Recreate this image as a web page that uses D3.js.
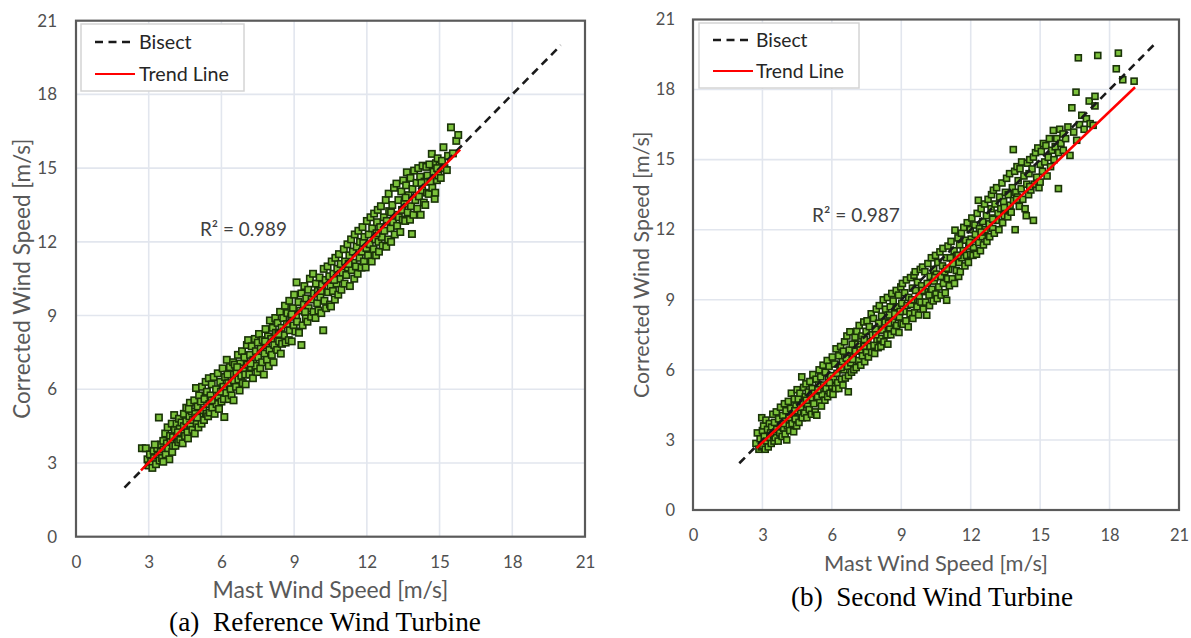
<!DOCTYPE html>
<html><head><meta charset="utf-8">
<script src="https://cdn.jsdelivr.net/npm/d3@7"></script>
<style>body{margin:0;background:#fff;} svg{display:block;}</style>
</head><body><svg id="c" width="1191" height="638"></svg>
<script>
const ticks = [0,3,6,9,12,15,18,21];
const bisectLine = [[2,2],[20,20]];
const leftTrend = [[2.68,2.70],[15.85,15.75]];
const rightTrend = [[2.75,2.65],[19.1,18.1]];
const r2Labels = ["R² = 0.989","R² = 0.987"];
const legendLabels = ["Bisect","Trend Line"];
const xTitle = "Mast Wind Speed [m/s]";
const yTitle = "Corrected Wind Speed [m/s]";
const captions = ["(a)  Reference Wind Turbine","(b)  Second Wind Turbine"];

const leftPoints = [
[2.72,3.6],[2.88,3.6],[2.95,3.15],[3.0,2.9],[3.05,3.35],[3.1,3.05],[3.15,2.8],[3.2,3.5],[3.22,3.2],[3.3,2.95],[3.35,3.6],[3.38,3.3],[3.42,4.85],[3.45,3.1],[3.5,3.75],[3.5,3.45],
[3.55,3.2],[3.6,3.9],[3.62,3.55],[3.68,4.2],[3.7,3.35],[3.75,3.8],[3.78,4.45],[3.8,3.6],[3.85,3.15],[3.88,4.1],[3.9,3.85],[3.95,4.6],[3.97,3.45],[4.0,4.05],[4.0,3.7],
[4.05,4.95],[4.08,4.35],[4.1,3.7],[4.15,4.6],[4.18,4.1],[4.22,3.85],[4.25,4.8],[4.28,4.4],[4.3,3.95],[4.35,4.65],[4.38,4.2],[4.4,3.8],[4.45,5.0],[4.45,4.5],[4.5,4.1],
[4.55,5.25],[4.55,4.7],[4.6,4.25],[4.62,4.0],[4.68,4.9],[4.7,5.45],[4.72,4.55],[4.78,5.1],[4.8,4.35],[4.82,4.75],[4.88,5.55],[4.9,4.2],[4.92,5.0],[4.95,6.05],[4.98,4.6],
[5.02,5.3],[5.05,4.45],[5.08,5.75],[5.1,4.9],[5.15,5.5],[5.18,4.6],[5.2,6.1],[5.25,5.15],[5.28,4.75],[5.3,5.6],[5.35,6.3],[5.38,5.0],[5.4,5.9],[5.45,4.9],[5.48,6.45],[5.5,5.4],
[5.52,5.05],[5.55,5.75],[5.6,6.2],[5.62,5.25],[5.68,6.5],[5.7,5.55],[5.72,5.0],[5.78,6.0],[5.8,5.4],[5.85,6.65],[5.88,5.7],[5.9,5.2],[5.95,6.3],[5.98,5.9],[6.0,5.5],
[6.05,6.85],[6.08,6.1],[6.12,4.87],[6.1,5.6],[6.15,6.5],[6.2,5.85],[6.22,7.2],[6.28,6.25],[6.3,5.6],[6.35,6.9],[6.38,6.0],[6.42,5.75],[6.45,6.6],[6.48,7.1],[6.5,5.55],
[6.52,6.35],[6.55,7.0],[6.6,6.1],[6.62,6.7],[6.68,7.4],[6.7,6.4],[6.75,5.95],[6.78,7.05],[6.82,6.55],[6.85,7.55],[6.88,6.25],[6.9,6.85],[6.95,7.3],[6.98,6.6],[7.0,6.2],
[7.05,7.8],[7.08,7.0],[7.1,8.0],[7.15,6.6],[7.18,7.4],[7.22,6.9],[7.25,7.75],[7.3,6.45],[7.32,7.2],[7.38,8.05],[7.4,6.95],[7.42,7.55],[7.48,6.7],[7.5,7.9],
[7.52,7.3],[7.55,8.25],[7.6,6.85],[7.62,7.65],[7.68,7.1],[7.7,8.0],[7.75,6.6],[7.78,7.45],[7.82,8.45],[7.85,7.8],[7.88,7.2],[7.92,8.15],[7.95,6.95],[7.98,7.6],[8.0,8.8],
[8.05,8.05],[8.08,7.4],[8.12,8.5],[8.15,7.1],[8.18,7.8],[8.22,8.9],[8.25,8.3],[8.3,7.6],[8.32,8.7],[8.38,7.95],[8.42,9.15],[8.45,7.45],[8.48,8.5],[8.5,7.85],
[8.55,8.9],[8.58,8.2],[8.62,9.4],[8.65,7.9],[8.7,8.65],[8.72,9.1],[8.78,8.0],[8.8,9.6],[8.82,8.4],[8.88,8.95],[8.9,7.95],[8.95,9.3],[8.98,8.6],[9.0,9.85],
[9.05,8.35],[9.08,9.0],[9.1,10.35],[9.12,8.75],[9.18,9.55],[9.2,8.3],[9.25,9.2],[9.3,7.8],[9.3,9.9],[9.35,8.6],[9.4,9.45],[9.42,10.2],[9.48,8.9],[9.5,9.7],
[9.55,8.75],[9.58,10.05],[9.6,9.3],[9.65,10.5],[9.7,8.95],[9.72,9.65],[9.78,10.7],[9.8,9.15],[9.82,9.9],[9.88,8.9],[9.9,10.3],[9.95,9.5],[9.98,10.0],[10.0,9.2],
[10.05,10.55],[10.08,9.75],[10.12,9.1],[10.15,10.25],[10.2,8.4],[10.22,10.9],[10.25,9.6],[10.3,10.45],[10.32,9.3],[10.38,11.0],[10.4,9.95],[10.45,10.6],[10.48,9.45],[10.5,10.2],
[10.52,9.37],[10.55,11.2],[10.6,10.0],[10.62,10.7],[10.68,9.65],[10.7,11.35],[10.75,10.3],[10.78,10.9],[10.82,9.85],[10.85,11.5],[10.88,10.5],[10.92,11.1],[10.95,10.05],[11.0,10.75],
[11.05,11.7],[11.08,10.3],[11.1,11.2],[11.15,10.65],[11.2,11.9],[11.22,10.95],[11.28,11.45],[11.3,10.2],[11.35,12.1],[11.38,10.85],[11.42,11.6],[11.45,11.15],[11.48,10.5],[11.5,12.3],
[11.55,11.0],[11.58,11.8],[11.62,10.7],[11.65,12.45],[11.7,11.35],[11.72,12.0],[11.78,10.95],[11.8,11.6],[11.82,12.6],[11.88,11.2],[11.9,12.2],[11.95,10.96],[11.98,11.75],[12.0,12.85],
[12.05,11.45],[12.08,12.3],[12.12,11.9],[12.15,13.0],[12.2,11.2],[12.22,12.55],[12.28,11.7],[12.3,13.15],[12.35,12.1],[12.38,11.45],[12.42,12.8],[12.45,13.3],[12.48,12.0],[12.5,11.6],
[12.55,12.6],[12.58,13.45],[12.62,12.2],[12.65,11.85],[12.7,13.0],[12.72,12.45],[12.78,13.7],[12.8,11.8],[12.82,12.85],[12.88,12.1],[12.9,13.96],[12.92,13.25],[12.98,12.55],[13.0,12.0],
[13.05,13.5],[13.08,12.8],[13.12,14.2],[13.15,12.3],[13.18,13.1],[13.22,14.37],[13.25,12.65],[13.3,13.7],[13.32,13.0],[13.38,12.4],[13.42,14.05],[13.45,13.3],[13.48,12.9],[13.5,14.5],
[13.55,13.55],[13.58,12.85],[13.62,14.3],[13.65,14.83],[13.68,13.2],[13.72,13.9],[13.78,12.9],[13.8,14.6],[13.82,13.45],[13.86,12.32],[13.88,14.15],[13.92,13.1],[13.95,14.9],[14.0,13.7],
[14.05,14.4],[14.08,13.35],[14.12,15.0],[14.15,13.85],[14.2,14.65],[14.22,13.1],[14.28,14.1],[14.3,15.1],[14.35,13.6],[14.38,14.45],[14.41,13.5],[14.45,15.05],[14.48,14.0],[14.5,14.7],
[14.55,13.95],[14.58,15.15],[14.62,14.45],[14.68,15.58],[14.7,14.2],[14.75,14.85],[14.8,13.75],[14.82,14.0],[14.85,15.2],[14.89,14.51],[14.92,15.4],[14.95,14.7],[15.0,15.1],
[15.05,14.6],[15.1,15.3],[15.16,15.85],[15.2,15.0],[15.3,14.92],[15.35,15.5],[15.47,16.66],[15.55,15.6],[15.69,16.11],[15.77,16.35],
[3.25,3.75],[3.6,3.05],[4.2,4.25],[4.65,5.2],[5.0,4.85],[5.6,5.55],[6.25,6.6],[6.65,6.9],[7.2,7.05],[7.8,7.95],[8.35,8.25],[8.9,9.05],[9.45,9.15],[10.1,10.0],[10.65,10.45],[11.25,11.1],[11.85,11.95],[12.4,12.35],[13.0,13.2],[13.6,13.8],[14.25,14.4],[14.9,15.0]
];

const rightPoints = [
[2.72,2.85],[2.78,3.3],[2.85,2.6],[2.9,3.05],[2.97,3.95],[2.95,2.7],[3.0,3.4],
[3.02,2.75],[3.05,3.6],[3.08,3.15],[3.12,2.6],[3.15,3.85],[3.18,2.95],[3.22,3.45],[3.25,2.7],[3.3,3.7],[3.32,3.1],[3.38,2.85],[3.4,3.55],[3.45,4.1],[3.48,3.2],[3.5,2.95],
[3.52,3.75],[3.55,3.1],[3.6,4.2],[3.62,3.45],[3.68,2.95],[3.7,3.9],[3.75,3.3],[3.78,4.4],[3.82,3.6],[3.85,3.15],[3.88,4.05],[3.92,3.5],[3.95,4.55],[3.98,3.25],[4.0,3.8],
[4.02,4.25],[4.05,3.0],[4.08,3.6],[4.12,4.65],[4.15,3.95],[4.18,3.4],[4.22,4.35],[4.25,5.0],[4.28,3.7],[4.32,4.1],[4.35,3.35],[4.38,4.75],[4.42,3.9],[4.45,4.45],[4.48,3.6],[4.5,5.15],
[4.52,4.2],[4.55,4.75],[4.58,3.75],[4.62,5.0],[4.65,4.4],[4.7,5.7],[4.72,3.95],[4.75,4.6],[4.78,5.25],[4.82,4.15],[4.85,4.85],[4.88,5.4],[4.92,3.95],[4.95,4.5],[4.98,5.05],
[5.02,4.3],[5.05,5.5],[5.08,4.75],[5.12,4.1],[5.15,5.2],[5.18,5.8],[5.22,4.55],[5.25,5.0],[5.28,4.2],[5.32,5.6],[5.35,4.06],[5.38,4.85],[5.42,5.35],[5.45,6.0],[5.48,4.6],[5.5,5.1],
[5.52,5.7],[5.55,4.45],[5.58,4.95],[5.62,6.2],[5.65,5.35],[5.7,4.7],[5.72,5.9],[5.75,5.2],[5.8,6.4],[5.82,4.85],[5.85,5.6],[5.88,6.15],[5.92,5.0],[5.95,5.75],[6.0,5.3],
[6.02,6.55],[6.05,4.95],[6.08,5.6],[6.12,6.25],[6.15,5.2],[6.18,6.9],[6.22,5.85],[6.25,5.45],[6.3,6.6],[6.3,5.2],[6.35,6.05],[6.38,7.0],[6.42,5.6],[6.45,6.35],[6.48,5.35],[6.5,6.8],
[6.52,6.0],[6.55,7.2],[6.58,5.65],[6.62,6.5],[6.65,7.45],[6.68,6.15],[6.71,5.06],[6.72,5.75],[6.75,6.85],[6.78,7.63],[6.82,6.3],[6.85,5.9],[6.88,7.1],[6.92,6.55],[6.95,6.0],[7.0,7.4],
[7.02,6.8],[7.05,6.1],[7.08,7.65],[7.12,7.1],[7.15,6.4],[7.18,7.9],[7.22,6.85],[7.25,6.2],[7.3,7.45],[7.32,6.6],[7.38,8.05],[7.4,7.0],[7.42,6.35],[7.48,7.65],[7.5,6.75],
[7.52,8.1],[7.55,7.2],[7.58,6.55],[7.62,7.85],[7.65,7.0],[7.7,8.4],[7.72,6.75],[7.75,7.5],[7.8,8.2],[7.82,7.05],[7.85,6.7],[7.88,7.75],[7.92,8.6],[7.95,7.3],[8.0,6.95],
[8.02,8.0],[8.05,8.75],[8.08,7.35],[8.12,7.0],[8.15,8.3],[8.18,7.7],[8.22,9.0],[8.25,7.2],[8.3,8.05],[8.32,8.6],[8.38,7.5],[8.4,9.1],[8.42,7.1],[8.48,8.35],[8.5,7.8],
[8.52,8.7],[8.55,7.5],[8.59,9.27],[8.62,8.05],[8.65,8.95],[8.7,7.65],[8.72,8.4],[8.78,9.4],[8.8,7.9],[8.82,8.7],[8.88,9.2],[8.9,7.6],[8.92,8.25],[8.98,9.55],[9.0,8.0],
[9.02,8.85],[9.05,9.7],[9.08,7.95],[9.12,8.5],[9.15,9.3],[9.2,8.1],[9.22,9.85],[9.25,8.75],[9.3,7.84],[9.32,9.1],[9.38,8.4],[9.4,9.95],[9.42,8.8],[9.48,9.5],[9.5,8.2],
[9.52,9.0],[9.55,10.05],[9.58,8.45],[9.6,10.2],[9.62,9.4],[9.68,8.7],[9.7,9.75],[9.75,8.35],[9.78,9.15],[9.82,10.3],[9.85,8.9],[9.88,9.6],[9.92,10.4],[9.95,8.6],[10.0,9.35],
[10.02,10.2],[10.05,8.9],[10.1,8.34],[10.12,9.7],[10.15,10.55],[10.2,9.2],[10.22,8.75],[10.25,10.0],[10.3,10.8],[10.32,9.45],[10.38,8.95],[10.4,10.3],[10.42,9.8],[10.48,10.9],[10.5,9.25],
[10.52,10.1],[10.55,9.05],[10.58,10.6],[10.62,9.55],[10.67,11.05],[10.7,10.0],[10.72,9.2],[10.78,10.45],[10.8,11.2],[10.82,9.7],[10.88,10.2],[10.9,9.3],[10.96,8.98],[10.95,10.8],[11.0,9.9],
[11.02,11.3],[11.05,10.3],[11.08,9.6],[11.12,10.8],[11.15,11.5],[11.2,9.9],[11.22,10.55],[11.28,11.1],[11.3,9.7],[11.32,11.98],[11.38,10.25],[11.4,10.9],[11.45,11.65],[11.48,10.0],[11.5,10.6],
[11.52,11.35],[11.55,10.2],[11.6,11.85],[11.62,10.8],[11.68,11.1],[11.7,12.1],[11.75,10.45],[11.78,11.55],[11.82,10.9],[11.85,12.3],[11.9,10.6],[11.92,11.3],[11.98,12.0],[12.0,10.95],
[12.02,11.6],[12.05,12.5],[12.1,10.9],[12.12,11.25],[12.18,12.2],[12.2,11.8],[12.25,10.95],[12.28,12.7],[12.33,13.26],[12.35,11.45],[12.38,12.05],[12.42,11.1],[12.45,12.9],[12.5,11.7],
[12.52,12.35],[12.55,11.35],[12.6,13.1],[12.62,12.0],[12.68,12.6],[12.7,11.5],[12.75,13.3],[12.8,12.25],[12.82,11.7],[12.88,12.9],[12.9,13.5],[12.95,12.05],[12.98,13.69],[13.0,12.5],
[13.02,11.85],[13.05,13.1],[13.1,12.4],[13.12,13.8],[13.18,12.7],[13.22,12.0],[13.25,13.4],[13.3,12.9],[13.35,14.0],[13.38,12.3],[13.42,13.2],[13.45,12.6],[13.5,13.6],
[13.52,12.9],[13.55,14.2],[13.6,12.55],[13.62,13.5],[13.68,14.4],[13.7,13.05],[13.75,12.75],[13.8,13.8],[13.84,15.43],[13.85,13.25],[13.9,14.5],[13.92,12.0],[13.95,13.6],[14.0,14.7],
[14.02,13.4],[14.05,14.1],[14.1,13.0],[14.13,14.61],[14.18,13.75],[14.2,14.9],[14.25,13.3],[14.3,14.3],[14.35,12.9],[14.4,12.6],[14.42,13.95],[14.45,14.85],[14.5,13.5],
[14.52,14.4],[14.55,15.0],[14.6,13.7],[14.65,14.6],[14.71,15.11],[14.71,12.4],[14.75,13.95],[14.8,15.3],[14.85,14.25],[14.9,15.5],[14.95,13.8],[15.0,14.04],[15.0,14.8],
[15.05,15.35],[15.1,14.5],[15.14,15.69],[15.2,14.9],[15.25,15.6],[15.3,14.3],[15.35,15.1],[15.4,15.9],[15.45,14.7],[15.5,15.4],
[15.57,16.25],[15.6,15.0],[15.65,15.55],[15.72,15.9],[15.79,13.76],[15.8,15.3],[15.85,16.3],[15.9,15.7],[15.99,16.1],[16.0,15.4],
[16.1,15.9],[16.2,16.4],[16.29,15.18],[16.37,17.22],[16.45,16.18],[16.55,17.89],[16.58,15.83],[16.65,19.36],[16.7,16.5],[16.8,16.9],[16.9,16.3],[17.0,16.75],
[17.12,17.51],[17.16,16.54],[17.29,16.47],[17.37,17.3],[17.37,17.71],[17.49,19.46],[18.29,18.89],[18.38,19.56],[18.57,18.42],[19.06,18.36],
[3.35,3.3],[3.9,3.7],[4.4,4.25],[4.9,4.7],[5.4,5.15],[5.9,5.45],[6.4,6.1],[6.9,6.45],[7.4,7.3],[7.9,7.5],[8.45,8.0],[8.95,8.5],[9.45,9.0],[9.9,9.4],[10.45,9.95],[10.95,10.35],[11.45,10.9],[11.95,11.45],[12.45,11.9],[12.95,12.45],[13.45,12.95],[13.98,13.3],[14.55,13.85]
];

const svg = d3.select("#c");
const SANS = "Lato, 'Open Sans', sans-serif";
const SERIF = "'Liberation Serif', 'Times New Roman', serif";

function fit(sel, target) {
  const w = sel.node().getComputedTextLength();
  const fs = parseFloat(sel.attr("font-size"));
  sel.attr("font-size", fs * target / w);
}

function panel(o) {
  const g = svg.append("g");
  const x = d3.scaleLinear().domain([0, 21]).range([o.x0, o.x1]);
  const y = d3.scaleLinear().domain([0, 21]).range([o.y0, o.y1]);

  g.append("g").selectAll("line").data(ticks.slice(1, -1)).join("line")
    .attr("x1", d => x(d)).attr("x2", d => x(d)).attr("y1", y(0)).attr("y2", y(21))
    .attr("stroke", "#e2e6ee").attr("stroke-width", 1.6);
  g.append("g").selectAll("line").data(ticks.slice(1, -1)).join("line")
    .attr("y1", d => y(d)).attr("y2", d => y(d)).attr("x1", x(0)).attr("x2", x(21))
    .attr("stroke", "#e2e6ee").attr("stroke-width", 1.6);

  const xa = g.append("g").attr("transform", `translate(0,${y(0)})`)
    .call(d3.axisBottom(x).tickValues(ticks).tickSize(0).tickPadding(o.padX).tickFormat(d3.format("d")));
  xa.select(".domain").remove();
  xa.attr("font-family", SANS).attr("font-size", o.tickFs);
  xa.selectAll("text").attr("fill", "#505050");

  const ya = g.append("g").attr("transform", `translate(${x(0)},0)`)
    .call(d3.axisLeft(y).tickValues(ticks).tickSize(0).tickPadding(o.padY).tickFormat(d3.format("d")));
  ya.select(".domain").remove();
  ya.attr("font-family", SANS).attr("font-size", o.tickFs);
  ya.selectAll("text").attr("fill", "#505050");

  const s = o.ms;
  g.append("g").selectAll("rect").data(o.points).join("rect")
    .attr("x", d => x(d[0]) - s / 2).attr("y", d => y(d[1]) - s / 2)
    .attr("width", s).attr("height", s)
    .attr("fill", "#7cc23c").attr("stroke", "#1a3308").attr("stroke-width", 1.6);

  const line = d3.line().x(d => x(d[0])).y(d => y(d[1]));
  g.append("path").attr("d", line(bisectLine)).attr("fill", "none")
    .attr("stroke", "#1a1a1a").attr("stroke-width", 2.6).attr("stroke-dasharray", "8,5.5");
  g.append("path").attr("d", line(o.trend)).attr("fill", "none")
    .attr("stroke", "#ff0000").attr("stroke-width", 2.5);

  g.append("rect").attr("x", x(0)).attr("y", y(21)).attr("width", x(21) - x(0)).attr("height", y(0) - y(21))
    .attr("fill", "none").attr("stroke", "#5a5a5a").attr("stroke-width", 2.2);

  const L = o.legend;
  g.append("rect").attr("x", L.x).attr("y", L.y).attr("width", L.w).attr("height", L.h)
    .attr("fill", "#fff").attr("stroke", "#d4d4d4").attr("stroke-width", 1.5);
  g.append("line").attr("x1", L.lx0).attr("x2", L.lx1d).attr("y1", L.y1).attr("y2", L.y1)
    .attr("stroke", "#1a1a1a").attr("stroke-width", 2.6).attr("stroke-dasharray", "8,5.5");
  g.append("line").attr("x1", L.lx0).attr("x2", L.lx1).attr("y1", L.y2).attr("y2", L.y2)
    .attr("stroke", "#ff0000").attr("stroke-width", 2.2);
  const t1 = g.append("text").attr("x", L.tx).attr("y", L.y1 + 7).attr("font-family", SANS)
    .attr("font-size", 20).attr("fill", "#262626").text(legendLabels[0]);
  const t2 = g.append("text").attr("x", L.tx).attr("y", L.y2 + 7).attr("font-family", SANS)
    .attr("font-size", 20).attr("fill", "#262626").text(legendLabels[1]);
  fit(t2, L.tw); t1.attr("font-size", t2.attr("font-size"));

  const r2 = g.append("text").attr("x", o.r2x).attr("y", o.r2y).attr("font-family", SANS)
    .attr("font-size", 20).attr("fill", "#404040").text(o.r2);
  fit(r2, o.r2w);

  const cx = (x(0) + x(21)) / 2;
  const xt = g.append("text").attr("x", cx).attr("y", o.xtY).attr("text-anchor", "middle")
    .attr("font-family", SANS).attr("font-size", 22).attr("fill", "#595959").text(xTitle);
  fit(xt, o.xtW);
  const cy = (y(0) + y(21)) / 2;
  const yt = g.append("text").attr("transform", `translate(${o.ytX},${cy}) rotate(-90)`)
    .attr("text-anchor", "middle").attr("font-family", SANS).attr("font-size", 22)
    .attr("fill", "#595959").text(yTitle);
  fit(yt, o.ytW);

  const cap = g.append("text").attr("x", o.capX).attr("y", o.capY).attr("text-anchor", "middle")
    .attr("font-family", SERIF).attr("font-size", 26).attr("fill", "#000")
    .style("white-space", "pre").text(o.caption);
  fit(cap, o.capW);
}

panel({
  x0: 76, x1: 585, y0: 536.7, y1: 20.7, points: leftPoints, trend: leftTrend, ms: 6.4,
  tickFs: 17, padX: 19, padY: 19,
  legend: {x: 81, y: 24, w: 163, h: 67, lx0: 95, lx1d: 130, lx1: 135, y1: 42, y2: 74, tx: 139, tw: 90},
  r2: r2Labels[0], r2x: 200, r2y: 236, r2w: 87,
  xtY: 598, xtW: 236, ytX: 30, ytW: 280,
  caption: captions[0], capX: 325, capY: 631, capW: 312
});
panel({
  x0: 693, x1: 1179, y0: 510, y1: 19.5, points: rightPoints, trend: rightTrend, ms: 6.0,
  tickFs: 16.5, padX: 19, padY: 18,
  legend: {x: 699, y: 23, w: 160, h: 65, lx0: 713, lx1d: 753, lx1: 753, y1: 40, y2: 71, tx: 756, tw: 88},
  r2: r2Labels[1], r2x: 812, r2y: 222, r2w: 88,
  xtY: 571, xtW: 224, ytX: 649, ytW: 267,
  caption: captions[1], capX: 932, capY: 606, capW: 282
});
</script>
</body></html>
